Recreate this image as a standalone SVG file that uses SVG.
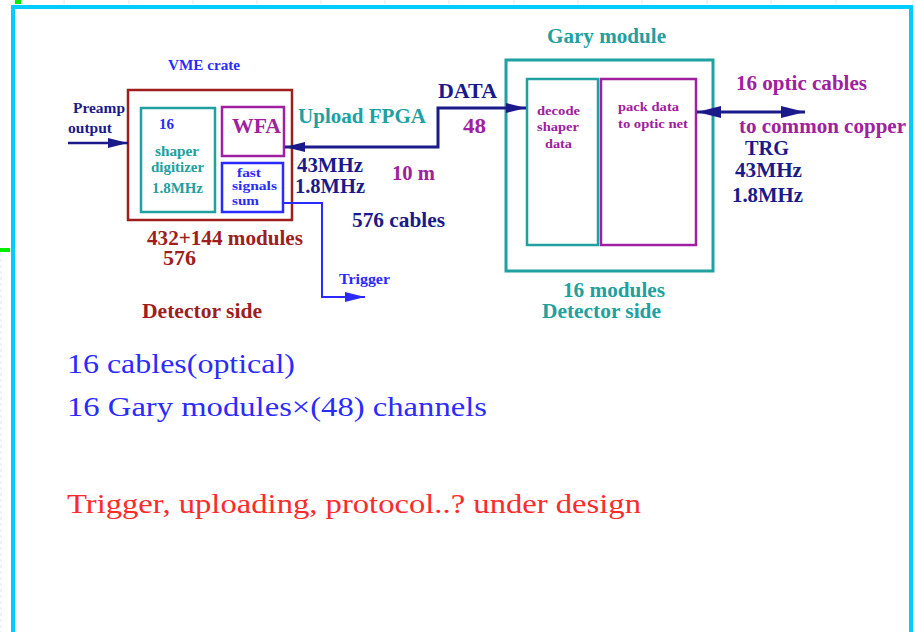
<svg xmlns="http://www.w3.org/2000/svg" width="916" height="632" viewBox="0 0 916 632">
<style>
  text { font-family: "Liberation Serif", "Times New Roman", serif; font-weight: bold; }
  .s { font-size: 14px; }
  .t { font-size: 11.5px; }
  .m { font-size: 20px; }
  .navy { fill: #1a1a8a; }
  .teal { fill: #20a0a0; }
  .purple { fill: #a020a0; }
  .red { fill: #9e1e1e; }
  .blue { fill: #2b2bff; }
  .cm { font-family: "Liberation Serif", "Times New Roman", serif; font-weight: normal; font-size: 28px; }
  .box { fill: none; }
</style>
<defs>
  <marker id="ahNavy" markerUnits="userSpaceOnUse" markerWidth="20" markerHeight="10" refX="20" refY="5" orient="auto-start-reverse">
    <path d="M0,0 L20,5 L0,10 Z" fill="#1a1a8a"/>
  </marker>
  <marker id="ahNavyBig" markerUnits="userSpaceOnUse" markerWidth="24" markerHeight="12" refX="24" refY="6" orient="auto-start-reverse">
    <path d="M0,0 L24,6 L0,12 Z" fill="#1a1a8a"/>
  </marker>
  <marker id="ahBlue" markerUnits="userSpaceOnUse" markerWidth="20" markerHeight="10" refX="20" refY="5" orient="auto-start-reverse">
    <path d="M0,0 L20,5 L0,10 Z" fill="#2b2bff"/>
  </marker>
</defs>

<rect width="916" height="632" fill="#ffffff"/>

<g id="frame">
  <g stroke="#dfe6fb" stroke-width="1">
    <line x1="64" y1="0" x2="64" y2="4"/><line x1="129" y1="0" x2="129" y2="4"/><line x1="193" y1="0" x2="193" y2="4"/>
    <line x1="257" y1="0" x2="257" y2="4"/><line x1="321" y1="0" x2="321" y2="4"/><line x1="385" y1="0" x2="385" y2="4"/>
    <line x1="449" y1="0" x2="449" y2="4"/><line x1="514" y1="0" x2="514" y2="4"/><line x1="578" y1="0" x2="578" y2="4"/>
    <line x1="642" y1="0" x2="642" y2="4"/><line x1="707" y1="0" x2="707" y2="4"/><line x1="771" y1="0" x2="771" y2="4"/>
    <line x1="836" y1="0" x2="836" y2="4"/>
    <line x1="1" y1="253" x2="1" y2="632" stroke-dasharray="3,3"/>
  </g>
  <rect x="13" y="7" width="898" height="640" fill="none" stroke="#00ccff" stroke-width="4"/>
  <rect x="15" y="0" width="6" height="4" fill="#00ee00"/>
  <rect x="0" y="248" width="10" height="4" fill="#00ee00"/>
</g>

<g id="vme-crate">
  <text class="s blue" x="168" y="70" textLength="72" lengthAdjust="spacingAndGlyphs">VME crate</text>
  <rect class="box" x="128" y="90" width="164" height="130" stroke="#9e1e1e" stroke-width="2.5"/>
</g>

<g id="shaper">
  <rect class="box" x="141" y="108" width="74" height="104" stroke="#20a0a0" stroke-width="2.5"/>
  <text class="s blue" x="159" y="129" textLength="15" lengthAdjust="spacingAndGlyphs">16</text>
  <text class="s teal" x="155" y="156" textLength="44" lengthAdjust="spacingAndGlyphs">shaper</text>
  <text class="s teal" x="151" y="172" textLength="53" lengthAdjust="spacingAndGlyphs">digitizer</text>
  <text class="s teal" x="152" y="193" textLength="51" lengthAdjust="spacingAndGlyphs">1.8MHz</text>
</g>

<g id="wfa">
  <rect class="box" x="222" y="107" width="62" height="49" stroke="#a020a0" stroke-width="2.5"/>
  <text class="purple" font-size="21" x="232" y="133" textLength="49" lengthAdjust="spacingAndGlyphs">WFA</text>
</g>

<g id="fast-sum">
  <rect class="box" x="222" y="163" width="61" height="49" stroke="#2b2bff" stroke-width="2.5"/>
  <text class="t blue" x="237" y="177" textLength="24" lengthAdjust="spacingAndGlyphs">fast</text>
  <text class="t blue" x="232" y="189.5" textLength="45" lengthAdjust="spacingAndGlyphs">signals</text>
  <text class="t blue" x="232" y="205" textLength="27" lengthAdjust="spacingAndGlyphs">sum</text>
</g>

<g id="gary-module">
  <text class="m teal" x="547" y="43" textLength="119" lengthAdjust="spacingAndGlyphs">Gary module</text>
  <rect class="box" x="506" y="60" width="207" height="211" stroke="#20a0a0" stroke-width="3"/>
</g>

<g id="decode">
  <rect class="box" x="527" y="79" width="71" height="166" stroke="#20a0a0" stroke-width="2.5"/>
  <text class="purple" font-size="13" x="537" y="115" textLength="43" lengthAdjust="spacingAndGlyphs">decode</text>
  <text class="purple" font-size="13" x="537" y="131" textLength="42" lengthAdjust="spacingAndGlyphs">shaper</text>
  <text class="purple" font-size="13" x="545" y="148" textLength="27" lengthAdjust="spacingAndGlyphs">data</text>
</g>

<g id="pack">
  <rect class="box" x="601" y="79" width="95" height="166" stroke="#a020a0" stroke-width="2.5"/>
  <text class="purple" font-size="13" x="618" y="111" textLength="61" lengthAdjust="spacingAndGlyphs">pack data</text>
  <text class="purple" font-size="13" x="618" y="128" textLength="70" lengthAdjust="spacingAndGlyphs">to optic net</text>
</g>

<g id="connectors" fill="none">
  <line x1="68" y1="143" x2="128" y2="143" stroke="#1a1a8a" stroke-width="2.5" marker-end="url(#ahNavy)"/>
  <path d="M285 147 H438 V108 H526" stroke="#1a1a8a" stroke-width="3" marker-start="url(#ahNavy)" marker-end="url(#ahNavy)"/>
  <path d="M283 203 H322 V297 H365" stroke="#2b2bff" stroke-width="2" marker-end="url(#ahBlue)"/>
  <line x1="697" y1="112" x2="805" y2="112" stroke="#1a1a8a" stroke-width="3" marker-start="url(#ahNavyBig)" marker-end="url(#ahNavyBig)"/>
</g>

<g id="labels">
  <text class="s navy" x="73" y="113" textLength="52" lengthAdjust="spacingAndGlyphs">Preamp</text>
  <text class="s navy" x="68" y="133" textLength="44" lengthAdjust="spacingAndGlyphs">output</text>
  <text class="m teal" x="298" y="123" textLength="128" lengthAdjust="spacingAndGlyphs">Upload FPGA</text>
  <text class="m navy" x="438" y="98" textLength="59" lengthAdjust="spacingAndGlyphs">DATA</text>
  <text class="m purple" x="463" y="133" textLength="23" lengthAdjust="spacingAndGlyphs">48</text>
  <text class="m navy" x="297" y="172" textLength="66" lengthAdjust="spacingAndGlyphs">43MHz</text>
  <text class="m navy" x="295" y="193" textLength="70" lengthAdjust="spacingAndGlyphs">1.8MHz</text>
  <text class="m purple" x="392" y="180" textLength="43" lengthAdjust="spacingAndGlyphs">10 m</text>
  <text class="m navy" x="352" y="227" textLength="93" lengthAdjust="spacingAndGlyphs">576 cables</text>
  <text class="m red" x="147" y="245" textLength="156" lengthAdjust="spacingAndGlyphs">432+144 modules</text>
  <text class="m red" x="163" y="265" textLength="33" lengthAdjust="spacingAndGlyphs">576</text>
  <text class="s blue" x="339" y="284" textLength="51" lengthAdjust="spacingAndGlyphs">Trigger</text>
  <text class="m red" x="142" y="318" textLength="120" lengthAdjust="spacingAndGlyphs">Detector side</text>
  <text class="m purple" x="736" y="90" textLength="131" lengthAdjust="spacingAndGlyphs">16 optic cables</text>
  <text class="m purple" x="739" y="133" textLength="167" lengthAdjust="spacingAndGlyphs">to common copper</text>
  <text class="m navy" x="745" y="155" textLength="44" lengthAdjust="spacingAndGlyphs">TRG</text>
  <text class="m navy" x="735" y="177" textLength="67" lengthAdjust="spacingAndGlyphs">43MHz</text>
  <text class="m navy" x="732" y="202" textLength="71" lengthAdjust="spacingAndGlyphs">1.8MHz</text>
  <text class="m teal" x="563" y="297" textLength="102" lengthAdjust="spacingAndGlyphs">16 modules</text>
  <text class="m teal" x="542" y="318" textLength="119" lengthAdjust="spacingAndGlyphs">Detector side</text>
  <text class="cm blue" x="67" y="373" textLength="228" lengthAdjust="spacingAndGlyphs">16 cables(optical)</text>
  <text class="cm blue" x="67" y="416" textLength="420" lengthAdjust="spacingAndGlyphs">16 Gary modules×(48) channels</text>
  <text class="cm" fill="#ff2a2a" x="67" y="513" textLength="574" lengthAdjust="spacingAndGlyphs">Trigger, uploading, protocol..? under design</text>
</g>
</svg>
